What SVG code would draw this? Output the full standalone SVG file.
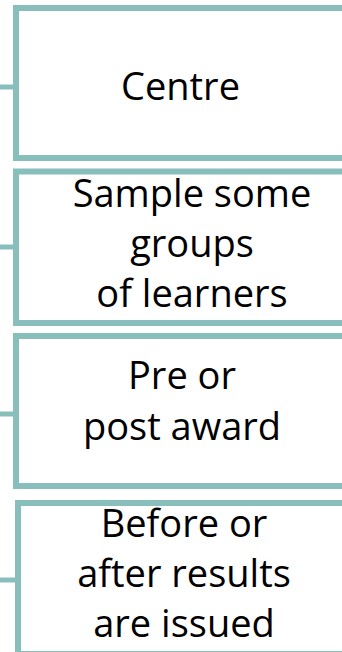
<svg xmlns="http://www.w3.org/2000/svg" width="342" height="652" viewBox="0 0 342 652">
<style>
.box{fill:#ffffff;stroke:#88bebc;stroke-width:6}
.conn{stroke:#88bebc;stroke-width:5;fill:none}
text{font-family:"Open Sans","Noto Sans",sans-serif;font-size:38px;fill:#000;text-anchor:middle}
</style>
<rect width="342" height="652" fill="#ffffff"/>
<g id="connectors">
<line class="conn" x1="0" y1="87" x2="16" y2="87"/>
<line class="conn" x1="0" y1="247" x2="16" y2="247"/>
<line class="conn" x1="0" y1="414" x2="16" y2="414"/>
<line class="conn" x1="0" y1="580" x2="18" y2="580"/>
</g>
<g id="node1">
<rect class="box" x="16" y="8" width="340" height="150"/>
<text x="180.5" y="100">Centre</text>
</g>
<g id="node2">
<rect class="box" x="16" y="171.5" width="340" height="151.5"/>
<text x="192" y="207">Sample some</text>
<text x="192" y="257">groups</text>
<text x="192" y="307">of learners</text>
</g>
<g id="node3">
<rect class="box" x="16" y="336" width="340" height="150"/>
<text x="182" y="389">Pre or</text>
<text x="182" y="440">post award</text>
</g>
<g id="node4">
<rect class="box" x="18" y="503" width="340" height="151"/>
<text x="184" y="537">Before or</text>
<text x="184" y="587">after results</text>
<text x="184" y="637">are issued</text>
</g>
</svg>
